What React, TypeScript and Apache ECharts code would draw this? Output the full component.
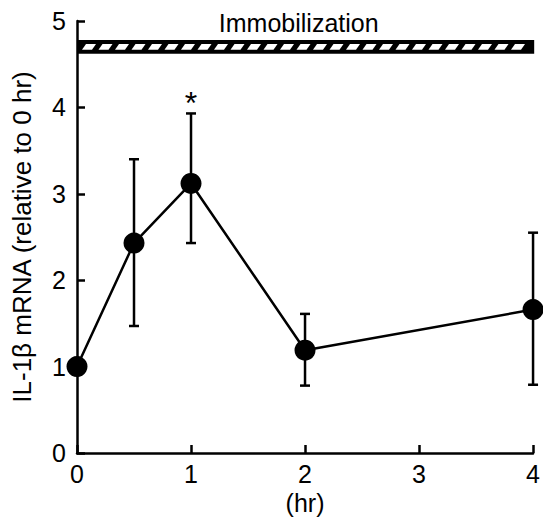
import React, { useEffect, useRef } from "react";
import * as echarts from "echarts";

// Time points (hr) and IL-1β mRNA relative to 0 hr
const timeHr = [0, 0.5, 1, 2, 4];
const meanValues = [1.0, 2.43, 3.12, 1.19, 1.66];
const errLow = [1.0, 1.47, 2.43, 0.78, 0.79];
const errHigh = [1.0, 3.4, 3.93, 1.61, 2.55];
const significantTimes = [1];

const xTicks = [0, 1, 2, 3, 4];
const yTicks = [0, 1, 2, 3, 4, 5];

const barLabel = "Immobilization";
const barStart = [0];
const barEnd = [4.01];
const barLow = [4.62];
const barHigh = [4.78];

const FONT = "'Liberation Sans', Arial, Helvetica, sans-serif";

export default function App() {
  const ref = useRef<HTMLDivElement>(null);

  useEffect(() => {
    if (!ref.current) return;
    const chart = echarts.init(ref.current, undefined, { renderer: "svg" });

    const lineData = timeHr.map((t, i) => [t, meanValues[i]]);
    const errData = timeHr
      .map((t, i) => [t, errLow[i], errHigh[i]])
      .filter((d) => d[1] !== d[2]);
    const sigData = significantTimes.map((t) => [t, errHigh[timeHr.indexOf(t)]]);
    const barData = barStart.map((s, i) => [s, barEnd[i], barLow[i], barHigh[i]]);

    const option: any = {
      animation: false,
      backgroundColor: "#fff",
      textStyle: { fontFamily: FONT },
      grid: { left: 77, right: 6, top: 21, bottom: 77, containLabel: false },
      xAxis: {
        type: "value",
        min: xTicks[0],
        max: xTicks[xTicks.length - 1],
        interval: 1,
        name: "(hr)",
        nameLocation: "middle",
        nameGap: 36,
        nameTextStyle: { color: "#000", fontSize: 25, fontFamily: FONT },
        axisLine: { show: true, onZero: false, lineStyle: { color: "#000", width: 2.5 } },
        axisTick: { show: true, inside: true, length: 8, lineStyle: { color: "#000", width: 2.5 } },
        axisLabel: { color: "#000", fontSize: 25, fontFamily: FONT, margin: 8 },
        splitLine: { show: false },
      },
      yAxis: {
        type: "value",
        min: yTicks[0],
        max: yTicks[yTicks.length - 1],
        interval: 1,
        name: "IL-1β mRNA (relative to 0 hr)",
        nameLocation: "middle",
        nameRotate: 90,
        nameGap: 42,
        nameTextStyle: { color: "#000", fontSize: 26, fontFamily: FONT },
        axisLine: { show: true, onZero: false, lineStyle: { color: "#000", width: 2.5 } },
        axisTick: { show: true, inside: true, length: 8, lineStyle: { color: "#000", width: 2.5 } },
        axisLabel: { color: "#000", fontSize: 25, fontFamily: FONT, margin: 11, padding: [4, 0, 0, 0] },
        splitLine: { show: false },
      },
      series: [
        {
          type: "custom",
          name: "immobilization",
          coordinateSystem: "cartesian2d",
          clip: false,
          z: 3,
          data: barData,
          renderItem: (params: any, api: any) => {
            const p0 = api.coord([api.value(0), api.value(3)]);
            const p1 = api.coord([api.value(1), api.value(2)]);
            const x0 = p0[0];
            const x1 = p1[0];
            const top = p0[1];
            const bottom = p1[1];
            const children: any[] = [
              {
                type: "rect",
                shape: { x: x0, y: top, width: x1 - x0, height: bottom - top },
                style: { fill: "#000" },
              },
            ];
            const period = 16.5;
            const w = 10;
            const skew = 4;
            const pad = 4;
            for (let x = x0 + 5; x + w + skew < x1 - 2; x += period) {
              children.push({
                type: "polygon",
                shape: {
                  points: [
                    [x, bottom - pad],
                    [x + w, bottom - pad],
                    [x + w + skew, top + pad],
                    [x + skew, top + pad],
                  ],
                },
                style: { fill: "#fff" },
              });
            }
            children.push({
              type: "text",
              style: {
                text: barLabel,
                x: x0 + (x1 - x0) * 0.485,
                y: top - 5,
                align: "center",
                verticalAlign: "bottom",
                fill: "#000",
                font: `25px ${FONT}`,
              },
            });
            return { type: "group", children };
          },
        },
        {
          type: "custom",
          name: "errors",
          coordinateSystem: "cartesian2d",
          clip: false,
          z: 2,
          data: errData,
          renderItem: (params: any, api: any) => {
            const x = api.value(0);
            const lo = api.coord([x, api.value(1)]);
            const hi = api.coord([x, api.value(2)]);
            const cap = 5;
            const st = { stroke: "#000", lineWidth: 2.5 };
            return {
              type: "group",
              children: [
                { type: "line", shape: { x1: lo[0], y1: lo[1], x2: hi[0], y2: hi[1] }, style: st },
                { type: "line", shape: { x1: lo[0] - cap, y1: lo[1], x2: lo[0] + cap, y2: lo[1] }, style: st },
                { type: "line", shape: { x1: hi[0] - cap, y1: hi[1], x2: hi[0] + cap, y2: hi[1] }, style: st },
              ],
            };
          },
        },
        {
          type: "custom",
          name: "significance",
          coordinateSystem: "cartesian2d",
          clip: false,
          z: 2,
          data: sigData,
          renderItem: (params: any, api: any) => {
            const p = api.coord([api.value(0), api.value(1)]);
            return {
              type: "text",
              style: {
                text: "*",
                x: p[0],
                y: p[1] + 6,
                align: "center",
                verticalAlign: "bottom",
                fill: "#000",
                font: `32px ${FONT}`,
              },
            };
          },
        },
        {
          type: "line",
          name: "IL-1β",
          data: lineData,
          z: 4,
          symbol: "circle",
          symbolSize: 21,
          clip: false,
          lineStyle: { color: "#000", width: 2.5 },
          itemStyle: { color: "#000" },
        },
      ],
    };

    chart.setOption(option);
    return () => chart.dispose();
  }, []);

  return <div ref={ref} style={{ width: 543, height: 530, position: "absolute", left: 0, top: 0 }} />;
}
